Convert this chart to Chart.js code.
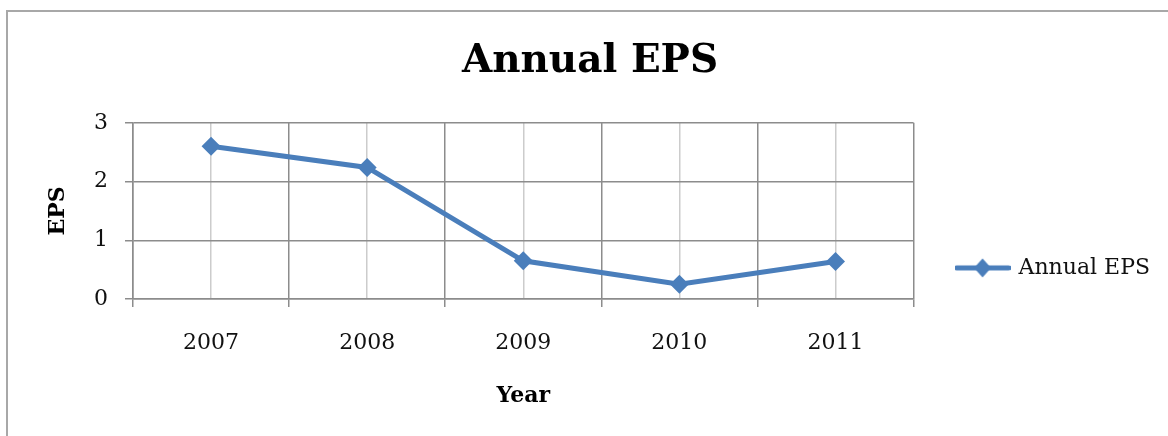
<!DOCTYPE html>
<html>
<head>
<meta charset="utf-8">
<script src="https://cdn.jsdelivr.net/npm/chart.js@4/dist/chart.umd.min.js"></script>
<style>
  html, body { margin: 0; padding: 0; background: #fff; overflow: hidden; }
  #wrap { position: relative; width: 1168px; height: 436px; }
  #frame { position: absolute; left: 6px; top: 10px; width: 1200px; height: 500px; border: 2px solid #a8a8a8; box-sizing: border-box; }
  canvas { position: absolute; left: 0; top: 0; }
</style>
</head>
<body>
<div id="wrap">
  <div id="frame"></div>
  <canvas id="c" width="1168" height="436"></canvas>
</div>
<script>
// ---- data ----
const years = ['2007', '2008', '2009', '2010', '2011'];
const epsValues = [2.6, 2.24, 0.65, 0.25, 0.64];
const yTicks = [0, 1, 2, 3];
const seriesName = 'Annual EPS';
const chartTitle = 'Annual EPS';
const xTitle = 'Year';
const yTitle = 'EPS';

const blue = '#4a7ebb';
const darkGrid = '#8c8c8c';
const lightGrid = '#cccccc';

Chart.defaults.font.family = "'DejaVu Serif', serif";
Chart.defaults.color = '#111';

// legend glyph: line with diamond marker
const glyph = document.createElement('canvas');
glyph.width = 56; glyph.height = 22;
(function () {
  const g = glyph.getContext('2d');
  g.strokeStyle = blue; g.lineWidth = 5; g.lineCap = 'round';
  g.beginPath(); g.moveTo(2, 11); g.lineTo(54, 11); g.stroke();
  g.fillStyle = blue;
  g.beginPath(); g.moveTo(28, 1.5); g.lineTo(36.5, 11); g.lineTo(28, 20.5); g.lineTo(19.5, 11); g.closePath(); g.fill();
})();

const points = years.map((y, i) => ({ x: i, y: epsValues[i] }));

new Chart(document.getElementById('c'), {
  type: 'line',
  data: {
    datasets: [{
      label: seriesName,
      data: points,
      borderColor: blue,
      backgroundColor: blue,
      borderWidth: 5,
      tension: 0,
      pointStyle: 'rectRot',
      pointRadius: 9.5,
      pointHoverRadius: 9.5,
      pointBackgroundColor: blue,
      pointBorderColor: blue,
      pointBorderWidth: 0
    }]
  },
  options: {
    responsive: false,
    animation: false,
    layout: { padding: { left: 20, right: 8, top: 10, bottom: 0 } },
    plugins: {
      title: {
        display: true,
        text: chartTitle,
        font: { size: 39, weight: 'bold' },
        color: '#000',
        padding: { top: 28, bottom: 38 }
      },
      legend: {
        position: 'right',
        align: 'center',
        fullSize: false,
        title: {
          display: true,
          text: ' ',
          color: 'rgba(0,0,0,0)',
          font: { size: 20 },
          padding: { top: 45, bottom: 45 }
        },
        labels: {
          usePointStyle: true,
          pointStyleWidth: 50,
          padding: 44,
          font: { size: 22 },
          color: '#111',
          generateLabels: (chart) => chart.data.datasets.map((ds, i) => ({
            text: ds.label,
            pointStyle: glyph,
            fillStyle: blue,
            strokeStyle: blue,
            lineWidth: 0,
            hidden: false,
            datasetIndex: i,
            fontColor: '#111'
          }))
        }
      },
      tooltip: { enabled: false }
    },
    scales: {
      x: {
        type: 'linear',
        min: -0.5,
        max: years.length - 0.5,
        afterFit: (s) => { s.height = 137; },
        ticks: {
          stepSize: 0.5,
          autoSkip: false,
          maxRotation: 0,
          padding: 23,
          font: { size: 22 },
          color: '#111',
          callback: (v) => Number.isInteger(v) ? years[v] : ''
        },
        grid: {
          color: (ctx) => Number.isInteger(ctx.tick.value) ? lightGrid : darkGrid,
          tickColor: (ctx) => Number.isInteger(ctx.tick.value) ? 'rgba(0,0,0,0)' : darkGrid,
          lineWidth: 1.5,
          tickLength: 8
        },
        border: { color: darkGrid, width: 1.5 },
        title: {
          display: true,
          text: xTitle,
          font: { size: 22, weight: 'bold' },
          color: '#000',
          padding: { top: 0, bottom: 27 }
        }
      },
      y: {
        min: 0,
        max: 3,
        afterFit: (s) => { s.width = 113; },
        afterBuildTicks: (s) => { s.ticks = yTicks.map(v => ({ value: v })); },
        ticks: {
          stepSize: 1,
          padding: 17,
          font: { size: 22 },
          color: '#111'
        },
        grid: { color: darkGrid, lineWidth: 1.5, tickLength: 8, tickColor: darkGrid },
        border: { color: darkGrid, width: 1.5 },
        title: {
          display: true,
          text: yTitle,
          font: { size: 22, weight: 'bold' },
          color: '#000',
          padding: { top: 25, bottom: 0 }
        }
      }
    }
  }
});
</script>
</body>
</html>
